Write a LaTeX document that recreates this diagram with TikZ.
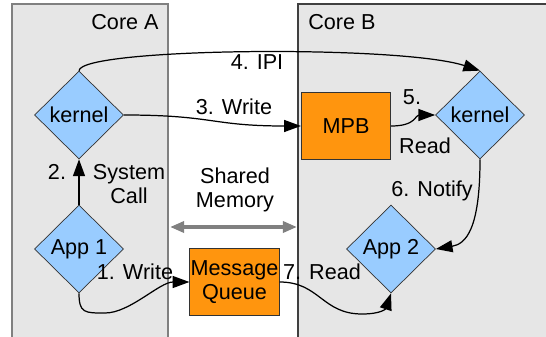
\documentclass[tikz,border=0pt]{standalone}
\usepackage{fontspec}
\setmainfont{Liberation Sans}
\usetikzlibrary{shapes.geometric,arrows.meta}
\definecolor{corefill}{HTML}{E6E6E6}
\definecolor{procblue}{HTML}{99CCFF}
\definecolor{bufferorange}{HTML}{FF950E}
\begin{document}
\begin{tikzpicture}
  [x=0.02cm,y=-0.02cm,
   font=\fontsize{12.3}{13.6}\selectfont,
   core/.style={fill=corefill,draw=black!50,line width=0.6pt},
   process/.style={diamond,draw=black!80,fill=procblue,inner sep=0pt,
     minimum width=1.78cm,minimum height=1.76cm},
   buffer/.style={rectangle,draw=black!80,fill=bufferorange,inner sep=0pt,
     minimum width=1.79cm,minimum height=1.35cm,align=center},
   message/.style={-{Triangle[length=9.5pt,width=6.8pt]},line width=0.7pt},
   msglabel/.style={inner sep=0pt,align=center}]
        \useasboundingbox (0,0) rectangle (546,337);
        \draw
          [core]
          (12,4) rectangle (168,345)
        ;
        \draw
          [core,draw=black!75]
          (298,4) rectangle (560,345)
        ;
        \node (core a label) [msglabel,anchor=east] at (159,22) {Core A};
        \node (core b label) [msglabel,anchor=west] at (308,22) {Core B};
        % processes and buffers
        \node (kernel a) [process] at (79,115) {kernel};
        \node (app 1) [process] at (79,249) {App 1};
        \node (kernel b) [process] at (480,115) {kernel};
        \node (app 2) [process] at (391,249) {App 2};
        \node (mpb) [buffer] at (346,126) {MPB};
        \node (queue) [buffer] at (234.5,282) {Message\\Queue};
        % shared memory
        \node (shared label) [msglabel] at (235,190) {Shared\\Memory};
        \coordinate (shared left) at (170,227);
        \coordinate (shared right) at (297,227);
        \draw
          [{Triangle[length=8pt,width=6.2pt]}-{Triangle[length=8pt,width=6.2pt]},
           draw=black!50,line width=2.4pt]
          (shared left) -- (shared right)
        ;
        % messages
        \draw [message]
          (app 1.south)
          .. controls +(0,20) and +(-20,0) .. (105,313)
          .. controls +(25,0) and +(-30,0) .. (queue.west)
        ;
        \node (write label) [msglabel] at (135,272) {1. Write};
        \draw [message]
          (app 1.north) -- (kernel a.south)
        ;
        \node (syscall num) [msglabel] at (57,172) {2.};
        \node (syscall label) [msglabel] at (129,184) {System\\Call};
        \draw [message]
          (kernel a.east)
          .. controls +(90,0) and +(-90,0) .. (mpb.west)
        ;
        \node (mpb write label) [msglabel] at (234,107) {3. Write};
        \draw [message]
          (kernel a.north)
          .. controls +(2,-23) and +(-80,-26) .. (kernel b.north)
        ;
        \node (ipi label) [msglabel] at (257,62) {4. IPI};
        \draw [message]
          (mpb.east)
          .. controls +(25,0) and +(-20,0) .. (kernel b.west)
        ;
        \node (read num) [msglabel] at (412,97) {5.};
        \node (read label) [msglabel] at (425,146) {Read};
        \draw [message]
          (kernel b.south)
          .. controls +(0,70) and +(30,-5) .. (app 2.east)
        ;
        \node (notify label) [msglabel] at (432,191) {6. Notify};
        \draw [message]
          (queue.east)
          .. controls +(40,0) and +(-40,0) .. (362,314)
          .. controls +(20,0) and +(-5,15) .. (app 2.south)
        ;
        \node (queue read label) [msglabel] at (322,272) {7. Read};
      \end{tikzpicture}
\end{document}
